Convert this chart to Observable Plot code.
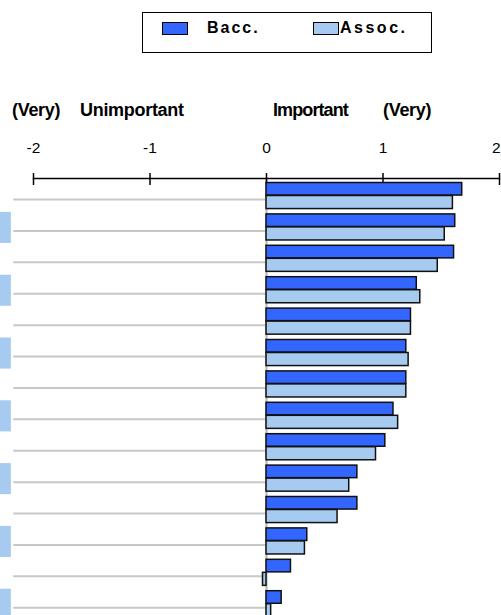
<!DOCTYPE html>
<html>
<head>
<meta charset="utf-8">
<script src="https://cdn.jsdelivr.net/npm/d3@7"></script>
<script src="https://cdn.jsdelivr.net/npm/@observablehq/plot@0.6"></script>
<style>
  body { margin: 0; background: #fff; font-family: "Liberation Sans", Arial, sans-serif; }
  #wrap { position: relative; width: 501px; height: 615px; overflow: hidden; }
  #header { position: relative; width: 501px; height: 130px; }
  #legend { position: absolute; left: 142px; top: 12px; width: 290px; height: 41px; box-sizing: border-box; border: 1.5px solid #000; }
  .sw { position: absolute; top: 9px; width: 26px; height: 13px; box-sizing: border-box; border: 1.5px solid #000; }
  .lt { position: absolute; top: 6px; font-weight: bold; font-size: 16px; color: #000; }
  .hd { position: absolute; top: 100px; font-weight: bold; font-size: 18px; letter-spacing: -0.3px; color: #000; white-space: nowrap; }
</style>
</head>
<body>
<div id="wrap">
  <div id="header"></div>
  <div id="chart"></div>
</div>
<script>
// ---- data ----
const categories = ["Item 1","Item 2","Item 3","Item 4","Item 5","Item 6","Item 7","Item 8","Item 9","Item 10","Item 11","Item 12","Item 13","Item 14"];
const baccValues  = [1.68, 1.62, 1.61, 1.29, 1.24, 1.20, 1.20, 1.09, 1.02, 0.78, 0.78, 0.35, 0.21, 0.13];
const assocValues = [1.60, 1.53, 1.47, 1.32, 1.24, 1.22, 1.20, 1.13, 0.94, 0.71, 0.61, 0.33, -0.03, 0.04];
const seriesNames = ["Bacc.", "Assoc."];
const seriesColors = ["#3366FF", "#A6CAF0"];
const xTicks = [-2, -1, 0, 1, 2];
const headerLabels = ["(Very)", "Unimportant", "Important", "(Very)"];

// ---- header (legend + scale captions) ----
const header = document.getElementById("header");
const legend = document.createElement("div");
legend.id = "legend";
const swLeft = [19, 170];
const txtLeft = [64, 197];
const txtSpacing = ["2px", "2.5px"];
seriesNames.forEach((name, i) => {
  const sw = document.createElement("div");
  sw.className = "sw";
  sw.style.left = swLeft[i] + "px";
  sw.style.background = seriesColors[i];
  legend.appendChild(sw);
  const t = document.createElement("div");
  t.className = "lt";
  t.style.left = txtLeft[i] + "px";
  t.style.letterSpacing = txtSpacing[i];
  t.textContent = name;
  legend.appendChild(t);
});
header.appendChild(legend);
const hdLeft = [12, 80, 273, 383];
headerLabels.forEach((lab, i) => {
  const s = document.createElement("div");
  s.className = "hd";
  s.style.left = hdLeft[i] + "px";
  if (i === 2) s.style.letterSpacing = "-0.9px";
  s.textContent = lab;
  header.appendChild(s);
});

// ---- chart ----
const bacc = categories.map((c, i) => ({cat: c, value: baccValues[i]}));
const assoc = categories.map((c, i) => ({cat: c, value: assocValues[i]}));
const evenCats = categories.filter((c, i) => i % 2 === 1);
const fmt = d => d < 0 ? "-" + Math.abs(d) : String(d);
const innerTicks = xTicks.slice(0, -1);
const lastTick = xTicks.slice(-1);

const step = 31.4;
const y0 = 52.5;

const chart = Plot.plot({
  width: 501,
  height: 485,
  marginTop: 48,
  marginLeft: 33,
  marginRight: 2,
  marginBottom: 0,
  style: {fontFamily: "'Liberation Sans', Arial, sans-serif", fontSize: "15px", color: "#000", background: "#fff"},
  x: {domain: [-2, 2]},
  y: {domain: categories, type: "band", paddingInner: 0.17, paddingOuter: 0, align: 0, round: false,
      range: [y0, y0 + step * (categories.length - 0.17)], axis: null},
  marks: [
    Plot.barX(evenCats, {y: d => d, x1: -2.7, x2: -2.19, fill: "#A6CAF0", insetTop: -2, insetBottom: -3}),
    Plot.ruleY(categories, {y: d => d, x1: -2.17, x2: 0, stroke: "#c8c8c8", strokeWidth: 2, dy: 3.5}),
    Plot.ruleX([0], {stroke: "#b4b4b4", strokeWidth: 2}),
    Plot.frame({anchor: "top", stroke: "#000", strokeWidth: 1.5}),
    Plot.axisX(xTicks, {anchor: "top", tickSize: 12, dy: 6, text: null, stroke: "#000", strokeWidth: 1.5, label: null}),
    Plot.text(innerTicks, {x: d => d, frameAnchor: "top", lineAnchor: "middle", dy: -30, fontSize: 15.5, fill: "#000",
      text: fmt, textAnchor: "middle"}),
    Plot.text(lastTick, {x: d => d, frameAnchor: "top", lineAnchor: "middle", dy: -30, dx: 1, fontSize: 15.5, fill: "#000",
      text: fmt, textAnchor: "end"}),
    Plot.barX(bacc, {x: "value", y: "cat", fill: seriesColors[0], stroke: "#111", strokeWidth: 1.5, insetBottom: 13.5}),
    Plot.barX(assoc, {x: "value", y: "cat", fill: seriesColors[1], stroke: "#111", strokeWidth: 1.5, insetTop: 13})
  ]
});
document.getElementById("chart").appendChild(chart);
</script>
</body>
</html>
